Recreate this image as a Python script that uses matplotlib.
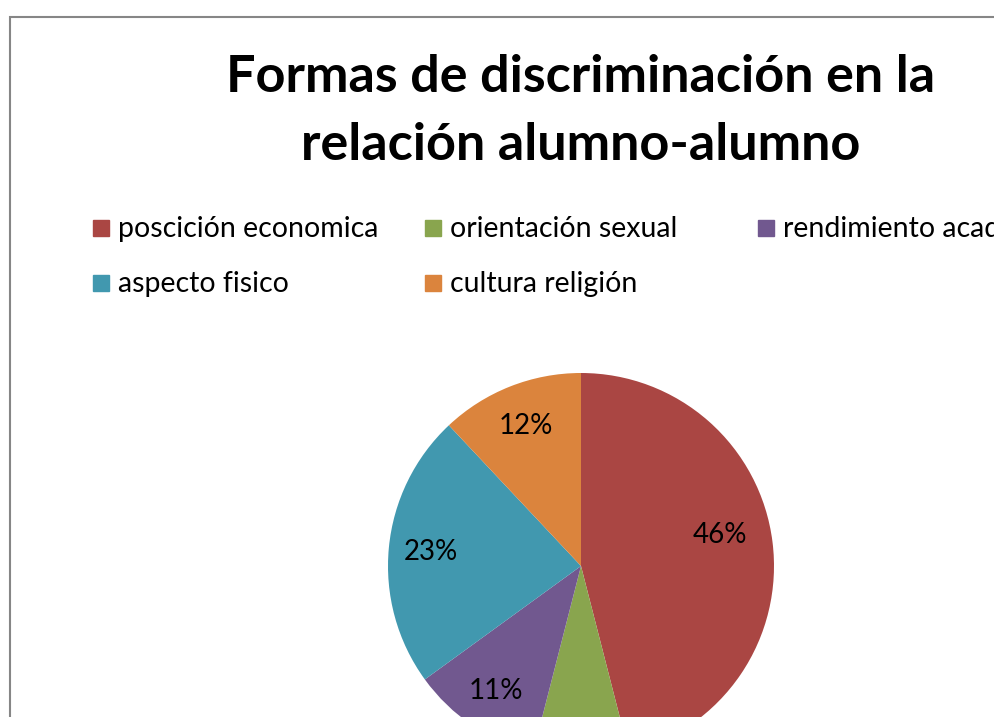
import matplotlib.pyplot as plt
from matplotlib.patches import Rectangle

categorias = ['poscición economica', 'orientación sexual', 'rendimiento academico',
              'aspecto fisico', 'cultura religión']
valores = [46, 8, 11, 23, 12]
colores = ['#AA4643', '#89A54E', '#71588F', '#4198AF', '#DB843D']

W, H = 994, 717
fig = plt.figure(figsize=(W / 100, H / 100), dpi=100)
fig.patch.set_facecolor('white')

# chart border (only top and left visible, rest cropped)
fig.patches.append(Rectangle((10 / W, -0.5), 2.0, (H - 17) / H + 0.5,
                             transform=fig.transFigure, fill=False,
                             edgecolor='#868686', lw=1.5))

fig.text(581 / W, 1 - 78 / H, 'Formas de discriminación en la',
         ha='center', va='center', fontsize=37.5, fontweight='bold', family='Lato')
fig.text(581 / W, 1 - 145 / H, 'relación alumno-alumno',
         ha='center', va='center', fontsize=37.5, fontweight='bold', family='Lato')

# legend, three columns
col_x = [93, 425, 758]
row_y = [228, 283]
for i, (lab, c) in enumerate(zip(categorias, colores)):
    x = col_x[i % 3]
    y = row_y[i // 3]
    fig.patches.append(Rectangle((x / W, 1 - (y + 8) / H), 16 / W, 16 / H,
                                 transform=fig.transFigure, color=c))
    fig.text((x + 25) / W, 1 - (y + 1) / H, lab, ha='left', va='center',
             fontsize=20.5, family='Lato')

r = 193
cx, cy = 581, 566
ax = fig.add_axes([(cx - r) / W, 1 - (cy + r) / H, 2 * r / W, 2 * r / H])
wedges, texts, autotexts = ax.pie(valores, colors=colores, startangle=90,
                                  counterclock=False, autopct='%1.0f%%',
                                  pctdistance=0.78,
                                  textprops={'fontsize': 20, 'family': 'Lato'})
ax.set_xlim(-1, 1)
ax.set_ylim(-1, 1)
ax.set_aspect('equal')
# the label of the small slice sits below the visible area
autotexts[1].set_position((0, -1.15))
autotexts[0].set_position((0.72, 0.16))

fig.savefig('out.png', dpi=100, facecolor='white')
